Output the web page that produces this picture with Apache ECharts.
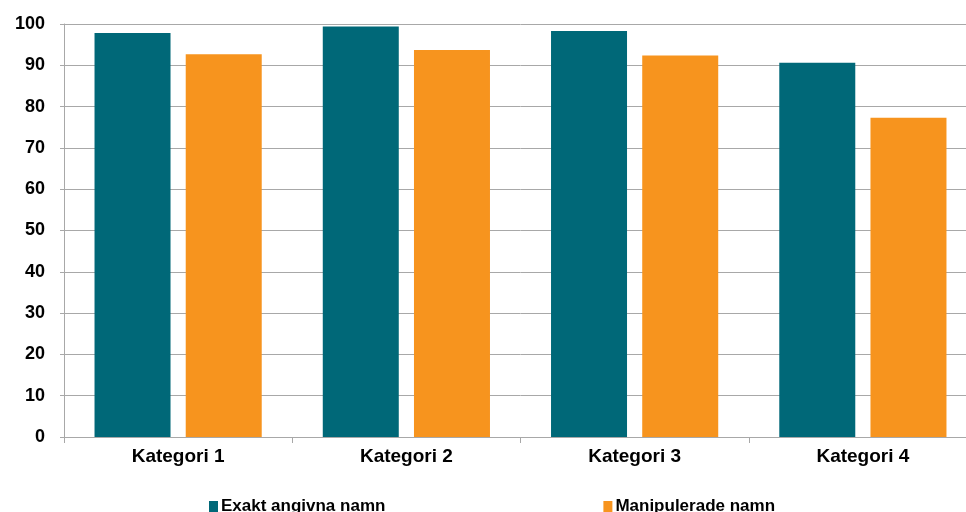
<!DOCTYPE html>
<html>
<head>
<meta charset="utf-8">
<script src="https://cdn.jsdelivr.net/npm/echarts@6/dist/echarts.min.js"></script>
<style>
  html, body { margin: 0; padding: 0; background: #ffffff; overflow: hidden; }
  /* the plot area runs a little past the right edge of the window */
  #chart { width: 990px; height: 512px; }
</style>
</head>
<body>
<div id="chart"></div>
<script>
// Categories and series values
const categories = ['Kategori 1', 'Kategori 2', 'Kategori 3', 'Kategori 4'];
const exaktValues = [97.8, 99.4, 98.3, 90.6];
const manipuleradeValues = [92.7, 93.7, 92.4, 77.3];
const seriesNames = ['Exakt angivna namn', 'Manipulerade namn'];
const yTicks = { min: 0, max: 100, interval: 10 };

const gridColor = '#a8a8a8';
const labelFont = '"Liberation Sans", Arial, sans-serif';

const chart = echarts.init(document.getElementById('chart'), null, { renderer: 'canvas' });

chart.setOption({
  animation: false,
  backgroundColor: '#ffffff',
  grid: { left: 64, top: 24, right: 13, bottom: 75, containLabel: false, outerBoundsMode: 'none' },
  legend: {
    data: seriesNames,
    left: 204,
    top: 493,
    itemWidth: 9,
    itemHeight: 11,
    itemGap: 218,
    icon: 'rect',
    textStyle: { fontFamily: labelFont, fontWeight: 'bold', fontSize: 17, color: '#000000', padding: [0, 0, 0, -2] }
  },
  xAxis: {
    type: 'category',
    data: categories,
    axisLine: { show: true, lineStyle: { color: gridColor, width: 1 } },
    axisTick: { show: true, alignWithLabel: false, length: 6, lineStyle: { color: gridColor } },
    axisLabel: { margin: 10, fontFamily: labelFont, fontWeight: 'bold', fontSize: 19, color: '#000000' }
  },
  yAxis: {
    type: 'value',
    min: yTicks.min,
    max: yTicks.max,
    interval: yTicks.interval,
    axisLine: { show: true, lineStyle: { color: gridColor, width: 1 } },
    axisTick: { show: true, length: 4, lineStyle: { color: gridColor } },
    splitLine: { show: true, lineStyle: { color: gridColor, width: 1 } },
    axisLabel: { margin: 19, fontFamily: labelFont, fontWeight: 'bold', fontSize: 18, color: '#000000' }
  },
  series: [
    {
      name: seriesNames[0],
      type: 'bar',
      data: exaktValues,
      barWidth: 76,
      barGap: '20%',
      itemStyle: { color: '#006878' }
    },
    {
      name: seriesNames[1],
      type: 'bar',
      data: manipuleradeValues,
      barWidth: 76,
      barGap: '20%',
      itemStyle: { color: '#f7941e' }
    }
  ]
});
</script>
</body>
</html>
